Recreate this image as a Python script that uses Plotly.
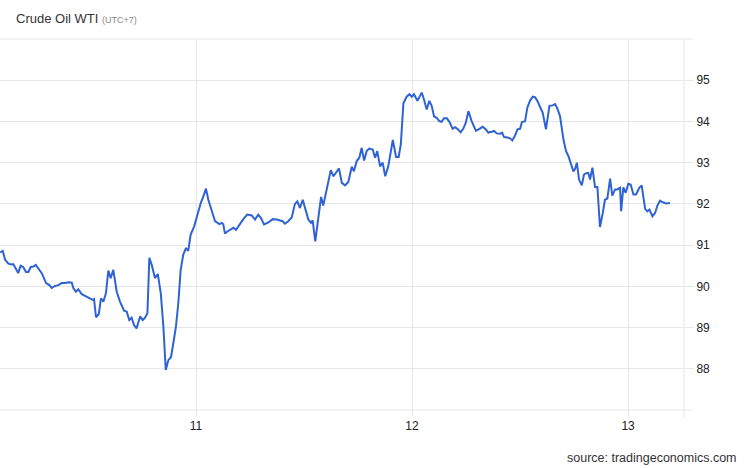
import plotly.graph_objects as go

# time in days (day of month, local UTC+7), price in USD/bbl
days = [
    10.093, 10.105, 10.116, 10.131, 10.147, 10.154, 10.165, 10.177, 10.188, 10.200,
    10.213, 10.224, 10.235, 10.247, 10.258, 10.270, 10.286, 10.306, 10.321, 10.332,
    10.347, 10.363, 10.378, 10.394, 10.409, 10.425, 10.432, 10.444, 10.455, 10.471,
    10.491, 10.506, 10.522, 10.528, 10.537, 10.550, 10.560, 10.571, 10.583, 10.594,
    10.605, 10.617, 10.633, 10.648, 10.667, 10.679, 10.691, 10.702, 10.713, 10.725,
    10.738,
    10.741, 10.753, 10.764, 10.775, 10.784, 10.795, 10.810, 10.823, 10.837, 10.849,
    10.860, 10.872, 10.884, 10.895, 10.907, 10.918, 10.929, 10.941, 10.954, 10.964,
    10.975, 10.991, 11.000, 11.011, 11.022, 11.034, 11.046, 11.057, 11.073, 11.088,
    11.108, 11.119, 11.126, 11.134, 11.145, 11.157, 11.173, 11.185, 11.200, 11.219,
    11.237, 11.258, 11.273, 11.288, 11.300, 11.315, 11.335, 11.355, 11.374, 11.389,
    11.401, 11.412, 11.427, 11.443, 11.458, 11.469, 11.481, 11.494, 11.505, 11.520,
    11.532, 11.540, 11.552, 11.566, 11.579, 11.589, 11.605, 11.624, 11.636, 11.648,
    11.662, 11.675, 11.690, 11.705, 11.721, 11.731, 11.744, 11.756, 11.767, 11.778,
    11.790, 11.802, 11.818, 11.829, 11.839, 11.852, 11.864, 11.876, 11.890, 11.911,
    11.926, 11.938, 11.948, 11.960, 11.975, 11.988, 11.999, 12.009, 12.025, 12.037,
    12.045, 12.056, 12.068, 12.080, 12.091, 12.102, 12.114, 12.126, 12.137, 12.148,
    12.161, 12.173, 12.188, 12.199, 12.210, 12.225, 12.237, 12.249, 12.261, 12.276,
    12.296, 12.312, 12.327, 12.341, 12.353, 12.369, 12.380, 12.392, 12.407, 12.417,
    12.426, 12.441, 12.454, 12.464, 12.477, 12.488, 12.500, 12.509, 12.523, 12.534,
    12.546, 12.559, 12.569, 12.580, 12.593, 12.605, 12.620, 12.636, 12.651, 12.662,
    12.673, 12.685,
    12.701, 12.713, 12.724, 12.735, 12.747, 12.755, 12.763, 12.773, 12.786, 12.796,
    12.809, 12.816, 12.824, 12.835, 12.847, 12.858, 12.870, 12.883, 12.893, 12.904,
    12.917, 12.927, 12.940, 12.950, 12.963, 12.968, 12.978, 12.989, 13.001, 13.012,
    13.025, 13.037, 13.052, 13.063, 13.079, 13.089, 13.099, 13.113, 13.125, 13.136,
    13.148, 13.161, 13.176, 13.194,
]
prices = [
    90.82, 90.86, 90.65, 90.55, 90.53, 90.54, 90.44, 90.32, 90.50, 90.47,
    90.35, 90.35, 90.47, 90.48, 90.52, 90.44, 90.32, 90.08, 90.03, 89.96,
    90.01, 90.03, 90.08, 90.08, 90.10, 90.09, 89.96, 89.87, 89.93, 89.81,
    89.75, 89.71, 89.67, 89.69, 89.25, 89.33, 89.71, 89.63, 89.83, 90.38,
    90.20, 90.40, 89.87, 89.63, 89.41, 89.39, 89.18, 89.24, 89.06, 88.98,
    89.23,
    89.27, 89.18, 89.24, 89.35, 90.69, 90.52, 90.20, 90.30, 89.83, 89.02,
    87.97, 88.21, 88.28, 88.62, 89.02, 89.59, 90.40, 90.77, 90.93, 90.86,
    91.25, 91.45, 91.62, 91.86, 92.02, 92.18, 92.37, 92.10, 91.86, 91.58,
    91.51, 91.54, 91.51, 91.28, 91.33, 91.37, 91.42, 91.37, 91.50, 91.63,
    91.74, 91.72, 91.62, 91.74, 91.66, 91.50, 91.55, 91.63, 91.62, 91.60,
    91.58, 91.52, 91.58, 91.67, 92.00, 92.06, 91.90, 92.10, 91.90, 91.62,
    91.54, 91.60, 91.09, 91.62, 92.17, 91.96, 92.35, 92.82, 92.67, 92.75,
    92.86, 92.51, 92.45, 92.53, 92.90, 92.79, 93.04, 93.12, 93.36, 93.05,
    93.28, 93.34, 93.32, 93.12, 93.28, 92.91, 93.00, 92.67, 92.91, 93.55,
    93.14, 93.14, 93.44, 94.44, 94.60, 94.66, 94.60, 94.66, 94.50, 94.62,
    94.70, 94.52, 94.29, 94.50, 94.38, 94.12, 94.09, 94.01, 93.99, 94.08,
    94.08, 93.99, 93.82, 93.86, 93.82, 93.74, 93.82, 93.97, 94.25, 94.01,
    93.77, 93.82, 93.87, 93.81, 93.73, 93.75, 93.77, 93.71, 93.70, 93.73,
    93.62, 93.61, 93.59, 93.54, 93.66, 93.81, 93.82, 93.99, 94.00, 94.34,
    94.50, 94.60, 94.59, 94.50, 94.36, 94.21, 93.81, 94.38, 94.39, 94.42,
    94.31, 94.13,
    93.56, 93.28, 93.16, 92.96, 92.79, 92.85, 93.00, 92.59, 92.45, 92.71,
    92.75, 92.75, 92.59, 92.88, 92.41, 92.41, 91.44, 91.78, 92.10, 92.13,
    92.61, 92.20, 92.35, 92.35, 92.39, 91.82, 92.40, 92.27, 92.49, 92.47,
    92.23, 92.23, 92.39, 92.45, 91.88, 91.82, 91.86, 91.70, 91.78, 91.96,
    92.08, 92.04, 92.01, 92.02,
]
x_ticks = [11, 12, 13]
y_ticks = [88, 89, 90, 91, 92, 93, 94, 95]

grid = "#e6e6e6"
font = "Liberation Sans, Arial, sans-serif"

fig = go.Figure()
fig.add_trace(go.Scatter(
    x=days, y=prices, mode="lines",
    line=dict(color="#2f63d3", width=2),
    hoverinfo="x+y",
))

fig.update_layout(
    width=746, height=468,
    margin=dict(l=0, r=62, t=39, b=58),
    paper_bgcolor="white", plot_bgcolor="white",
    showlegend=False,
    font=dict(family=font, size=12, color="#333"),
    xaxis=dict(
        range=[10.0926, 13.259],
        tickvals=x_ticks, ticktext=[str(t) for t in x_ticks],
        showgrid=True, gridcolor=grid, gridwidth=1,
        zeroline=False, showline=False,
        ticks="outside", ticklen=5, tickcolor=grid,
        tickfont=dict(size=12, color="#222"),
    ),
    yaxis=dict(
        range=[87, 96], side="right",
        tickvals=y_ticks,
        showgrid=True, gridcolor=grid, gridwidth=1,
        zeroline=False, showline=False,
        ticks="outside", ticklen=9, tickcolor=grid,
        tickfont=dict(size=12, color="#222"),
    ),
    shapes=[
        # top and bottom frame lines, extended like the grid ticks
        dict(type="line", xref="paper", yref="paper", x0=0, x1=1 + 9 / 684,
             y0=1, y1=1, line=dict(color=grid, width=1)),
        dict(type="line", xref="paper", yref="paper", x0=0, x1=1 + 9 / 684,
             y0=0, y1=0, line=dict(color=grid, width=1)),
        # right axis line
        dict(type="line", xref="paper", yref="paper", x0=1, x1=1,
             y0=-8 / 371, y1=1, line=dict(color=grid, width=1)),
    ],
    annotations=[
        dict(text="Crude Oil WTI <span style='font-size:9px;color:#888'>(UTC+7)</span>",
             xref="paper", yref="paper", x=14 / 684, y=1 + 20 / 371,
             xanchor="left", yanchor="middle", showarrow=False,
             font=dict(size=13, color="#333")),
        dict(text="source: tradingeconomics.com",
             xref="paper", yref="paper", x=739 / 684, y=-48 / 371,
             xanchor="right", yanchor="middle", showarrow=False,
             font=dict(size=12.5, color="#333")),
    ],
)

# drop the browser's default 8px body margin so the figure sits at the page corner
fig.write_html("out.html", config={"displayModeBar": False},
               post_script="document.body.style.margin='0';")
